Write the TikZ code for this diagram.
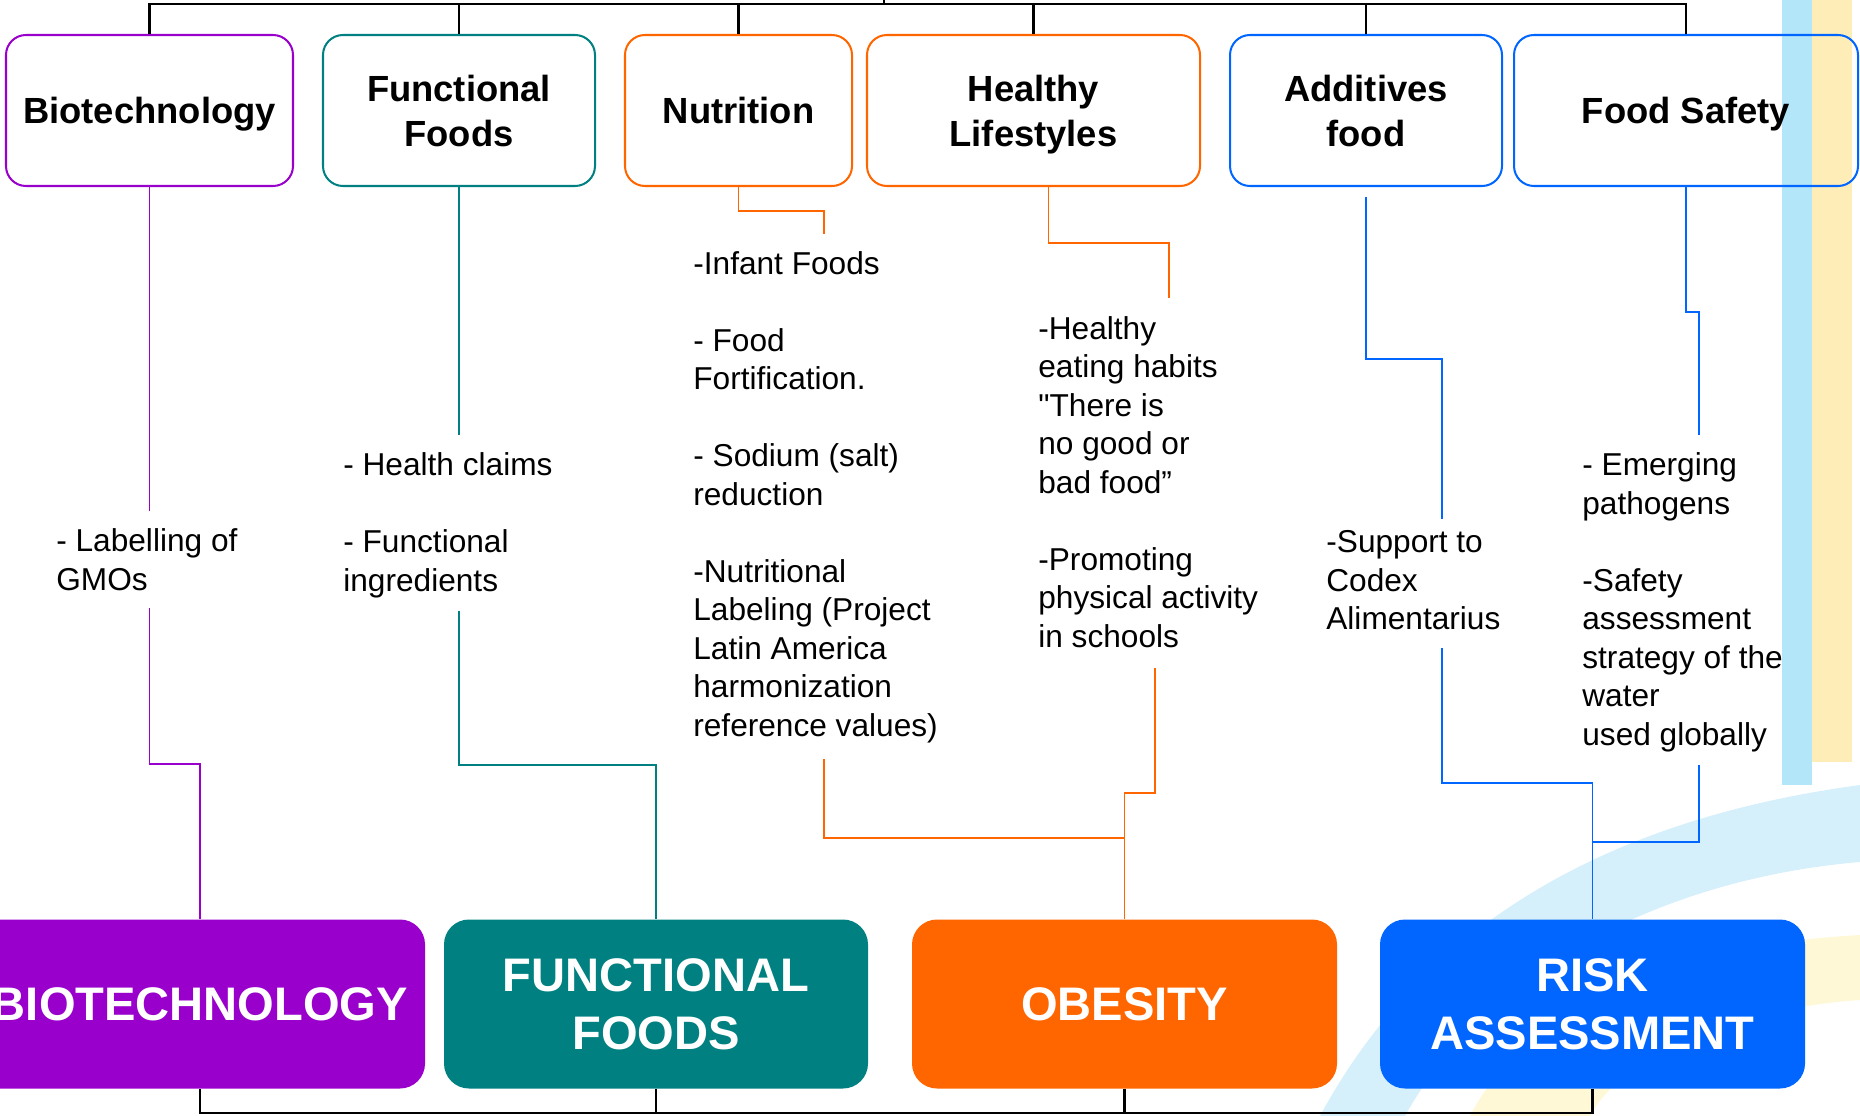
\documentclass[tikz,border=0pt]{standalone}
\usepackage{fontspec}
\setmainfont{Liberation Sans}

\definecolor{biopurple}{HTML}{9900CC}
\definecolor{functeal}{HTML}{008080}
\definecolor{obeorange}{HTML}{FF6600}
\definecolor{riskblue}{HTML}{0066FF}
\definecolor{stripblue}{HTML}{B4E6FA}
\definecolor{stripyellow}{HTML}{FFEDB8}
\definecolor{arcblue}{HTML}{D6F0FB}
\definecolor{arcyellow}{HTML}{FFF8D6}

\begin{document}
\begin{tikzpicture}[
    x=0.2mm, y=-0.2mm,
    topbox/.style={rectangle, draw, line width=1.15pt, rounded corners=4mm, minimum height=30.2mm, inner sep=0pt, text depth=0pt, align=center, font=\fontsize{20.7}{25.6}\selectfont\bfseries},
    bigbox/.style={rectangle, rounded corners=5mm, minimum height=33.8mm, inner sep=0pt, align=center, text=white, font=\fontsize{26.8}{33}\selectfont\bfseries},
    notes/.style={anchor=north west, inner sep=0pt, align=left, font=\fontsize{18}{21.9}\selectfont},
    link/.style={line width=1.1pt},
    bus/.style={line width=1.5pt, black}
  ]
    \useasboundingbox (0,0) rectangle (1860,1116);
    \clip (0,0) rectangle (1860,1116);

    % Background
    \fill[stripblue] (1782,0) rectangle (1812,785);
    \fill[stripyellow] (1812,0) rectangle (1852,762);
    \fill[arcblue] (1320,1116) .. controls (1420,930) and (1600,820) .. (1860,785)
      -- (1860,862) .. controls (1650,880) and (1480,980) .. (1405,1116) -- cycle;
    \fill[arcyellow] (1470,1116) .. controls (1530,1000) and (1680,945) .. (1860,935)
      -- (1860,1000) .. controls (1720,1010) and (1620,1060) .. (1590,1116) -- cycle;

    % Topics
    \node[topbox, draw=biopurple, minimum width=57.4mm] (biotech) at (149.5,110.5) {Biotechnology};
    \node[topbox, draw=functeal, minimum width=54.4mm] (funcfoods) at (459,110.5) {Functional\\Foods};
    \node[topbox, draw=obeorange, minimum width=45.4mm] (nutrition) at (738.5,110.5) {Nutrition};
    \node[topbox, draw=obeorange, minimum width=66.6mm] (healthy) at (1033.5,110.5) {Healthy\\Lifestyles};
    \node[topbox, draw=riskblue, minimum width=54.4mm] (additives) at (1366,110.5) {Additives\\food};
    \node[topbox, draw=riskblue, minimum width=68.8mm] (safety) at (1686,110.5) {Food Safety};

    % Areas
    \node[bigbox, fill=biopurple, minimum width=90mm] (bigbio) at (200,1004) {BIOTECHNOLOGY};
    \node[bigbox, fill=functeal, minimum width=84.8mm] (bigfunc) at (656,1004) {FUNCTIONAL\\FOODS};
    \node[bigbox, fill=obeorange, minimum width=85mm] (obesity) at (1124.5,1004) {OBESITY};
    \node[bigbox, fill=riskblue, minimum width=85mm] (risk) at (1592.5,1004) {RISK\\ASSESSMENT};

    % Notes
    \node[notes] (gmo) at (56,524.5) {\strut- Labelling of\\GMOs};
    \node[notes] (claims) at (343,448.6) {\strut- Health claims\\[21.9pt]- Functional\\ingredients};
    \node[notes] (infant) at (693,247) {\strut-Infant Foods\\[21.9pt]- Food\\Fortification.\\[21.9pt]- Sodium (salt)\\reduction\\[21.9pt]-Nutritional\\Labeling (Project\\Latin America\\harmonization\\reference values)};
    \node[notes] (habits) at (1038,312.2) {\strut-Healthy\\eating habits\\\textquotedbl There is\\no good or\\bad food”\\[21.9pt]-Promoting\\physical activity\\in schools};
    \node[notes] (codex) at (1326,525.7) {\strut-Support to\\Codex\\Alimentarius};
    \node[notes] (pathogens) at (1582,448.6) {\strut- Emerging\\pathogens\\[21.9pt]-Safety\\assessment\\strategy of the\\water\\used globally};

    % Line ends
    \coordinate (gmoU) at (149.5,511);
    \coordinate (gmoD) at (149.5,608);
    \coordinate (gmoK) at (149.5,764);
    \coordinate (claimsU) at (459,435);
    \coordinate (claimsD) at (459,611);
    \coordinate (claimsK) at (459,765);
    \coordinate (infantU) at (824,234);
    \coordinate (infantD) at (824,759);
    \coordinate (obeJ) at (1124.5,838);
    \coordinate (habitsU) at (1169,298);
    \coordinate (habitsD) at (1155,668);
    \coordinate (codexU) at (1442,519);
    \coordinate (codexD) at (1442,648);
    \coordinate (pathU) at (1699,435);
    \coordinate (pathD) at (1699,765);
    \coordinate (riskJ) at (1592.5,842);

    % Links
    \draw[link, biopurple] (biotech.south) -- (gmoU);
    \draw[link, biopurple] (gmoD) -- (gmoK) -| (bigbio.north);
    \draw[link, functeal] (funcfoods.south) -- (claimsU);
    \draw[link, functeal] (claimsD) -- (claimsK) -| (bigfunc.north);
    \draw[link, obeorange] (nutrition.south) -- ++(0,24) -| (infantU);
    \draw[link, obeorange] (infantD) |- (obeJ);
    \draw[link, obeorange] ([xshift=3mm]healthy.south) -- ++(0,56) -| (habitsU);
    \draw[link, obeorange] (habitsD) -- ++(0,125) -| (obesity.north);
    \draw[link, riskblue] ([yshift=-2mm]additives.south) -- ++(0,162) -| (codexU);
    \draw[link, riskblue] (codexD) -- ++(0,135) -| (risk.north);
    \draw[link, riskblue] (safety.south) -- ++(0,125) -| (pathU);
    \draw[link, riskblue] (pathD) |- (riskJ);

    % Buses
    \coordinate (topbus) at (884,4);
    \draw[bus] (biotech.north) |- (topbus) -| (safety.north);
    \draw[bus] (topbus) -- ++(0,-10);
    \foreach \b in {funcfoods, nutrition, healthy, additives}
      \draw[bus] (\b.north) -- (\b.north |- topbus);
    \coordinate (botbus) at (1124.5,1113);
    \draw[bus] (bigbio.south) |- (botbus) -| (risk.south);
    \foreach \b in {bigfunc, obesity}
      \draw[bus] (\b.south) -- (\b.south |- botbus);
  \end{tikzpicture}
\end{document}
